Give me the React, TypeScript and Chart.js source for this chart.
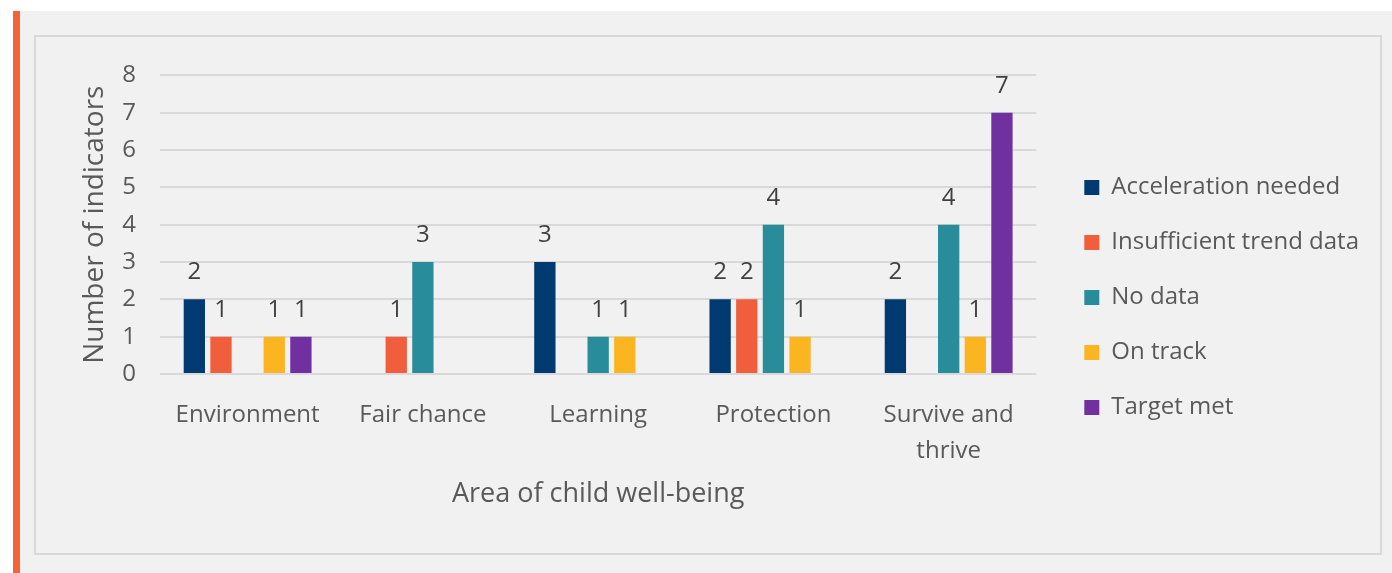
import React, { useEffect, useRef } from "react";
import { Chart, registerables } from "chart.js";

Chart.register(...registerables);

const categories: (string | string[])[] = ["Environment", "Fair chance", "Learning", "Protection", ["Survive and", "thrive"]];
const accelerationNeeded: (number | null)[] = [2, null, 3, 2, 2];
const insufficientTrendData: (number | null)[] = [1, 1, null, 2, null];
const noData: (number | null)[] = [null, 3, 1, 4, 4];
const onTrack: (number | null)[] = [1, null, 1, 1, 1];
const targetMet: (number | null)[] = [1, null, null, null, 7];
const seriesNames = ["Acceleration needed", "Insufficient trend data", "No data", "On track", "Target met"];
const seriesColors = ["#003A70", "#F15E3C", "#288C9A", "#FBB520", "#7030A0"];
const yTicks = [0, 1, 2, 3, 4, 5, 6, 7, 8];

const FONT = "'Open Sans', sans-serif";
const TEXT = "#595959";

const valueLabels = {
  id: "valueLabels",
  afterDatasetsDraw(chart: any) {
    const ctx = chart.ctx;
    ctx.save();
    ctx.font = `24px ${FONT}`;
    ctx.fillStyle = "#404040";
    ctx.textAlign = "center";
    ctx.textBaseline = "alphabetic";
    chart.data.datasets.forEach((ds: any, i: number) => {
      const meta = chart.getDatasetMeta(i);
      meta.data.forEach((el: any, j: number) => {
        const v = ds.data[j];
        if (v === null || v === undefined) return;
        ctx.fillText(String(v), el.x, el.y - 20);
      });
    });
    ctx.restore();
  },
};

export default function App() {
  const ref = useRef<HTMLCanvasElement | null>(null);
  useEffect(() => {
    if (!ref.current) return;
    const series = [accelerationNeeded, insufficientTrendData, noData, onTrack, targetMet];
    const chart = new Chart(ref.current, {
      type: "bar",
      data: {
        labels: categories,
        datasets: series.map((d, i) => ({
          label: seriesNames[i],
          data: d,
          backgroundColor: seriesColors[i],
          borderWidth: 0,
          categoryPercentage: 0.76,
          barPercentage: 0.8,
          yAxisID: "y",
        })),
      },
      options: {
        animation: false,
        responsive: false,
        maintainAspectRatio: false,
        layout: { padding: { left: 38, top: 35, right: 11, bottom: 38 } },
        plugins: {
          tooltip: { enabled: false },
          legend: {
            position: "right",
            maxWidth: 420,
            title: { display: true, text: "", font: { size: 6, lineHeight: 1 }, padding: { top: 1, bottom: 1 } },
            labels: {
              boxWidth: 15,
              boxHeight: 15,
              padding: 31,
              color: TEXT,
              font: { family: FONT, size: 24 },
            },
          },
        },
        scales: {
          x: {
            grid: { display: false },
            border: { display: false },
            ticks: {
              color: TEXT,
              font: { family: FONT, size: 24, lineHeight: 1.5 },
              padding: 15,
              maxRotation: 0,
              autoSkip: false,
            },
            title: {
              display: true,
              text: "Area of child well-being",
              color: TEXT,
              font: { family: FONT, size: 27 },
              padding: { top: 4, bottom: 4 },
            },
            afterFit: (s: any) => {
              s.height = 141;
            },
          },
          y: {
            min: 0,
            max: 8,
            afterBuildTicks: (s: any) => {
              s.ticks = yTicks.map((v) => ({ value: v }));
            },
            grid: { color: "#d9d9d9", lineWidth: 2, drawTicks: false },
            border: { display: false },
            ticks: {
              color: TEXT,
              font: { family: FONT, size: 24 },
              padding: 24,
            },
            title: {
              display: true,
              text: "Number of indicators",
              color: TEXT,
              font: { family: FONT, size: 28 },
              padding: { top: 4, bottom: 4 },
            },
            afterFit: (s: any) => {
              s.width = 86;
            },
          },
          y2: {
            position: "right",
            display: true,
            grid: { display: false, drawTicks: false },
            border: { display: false },
            ticks: { display: false },
            afterFit: (s: any) => {
              s.width = 17;
            },
          },
        },
      },
      plugins: [valueLabels],
    } as any);
    return () => chart.destroy();
  }, []);

  return (
    <div style={{ position: "fixed", left: 0, top: 0, width: 1392, height: 573, background: "#ffffff", overflow: "hidden" }}>
      <div style={{ position: "absolute", left: 13, top: 11, width: 1379, height: 562, background: "#f1f1f1" }} />
      <div style={{ position: "absolute", left: 13, top: 11, width: 7, height: 562, background: "#F4633A" }} />
      <div
        style={{
          position: "absolute",
          left: 34,
          top: 35,
          width: 1348,
          height: 520,
          border: "2px solid #d9d9d9",
          boxSizing: "border-box",
        }}
      />
      <canvas ref={ref} width={1344} height={516} style={{ position: "absolute", left: 36, top: 37, width: 1344, height: 516 }} />
    </div>
  );
}
